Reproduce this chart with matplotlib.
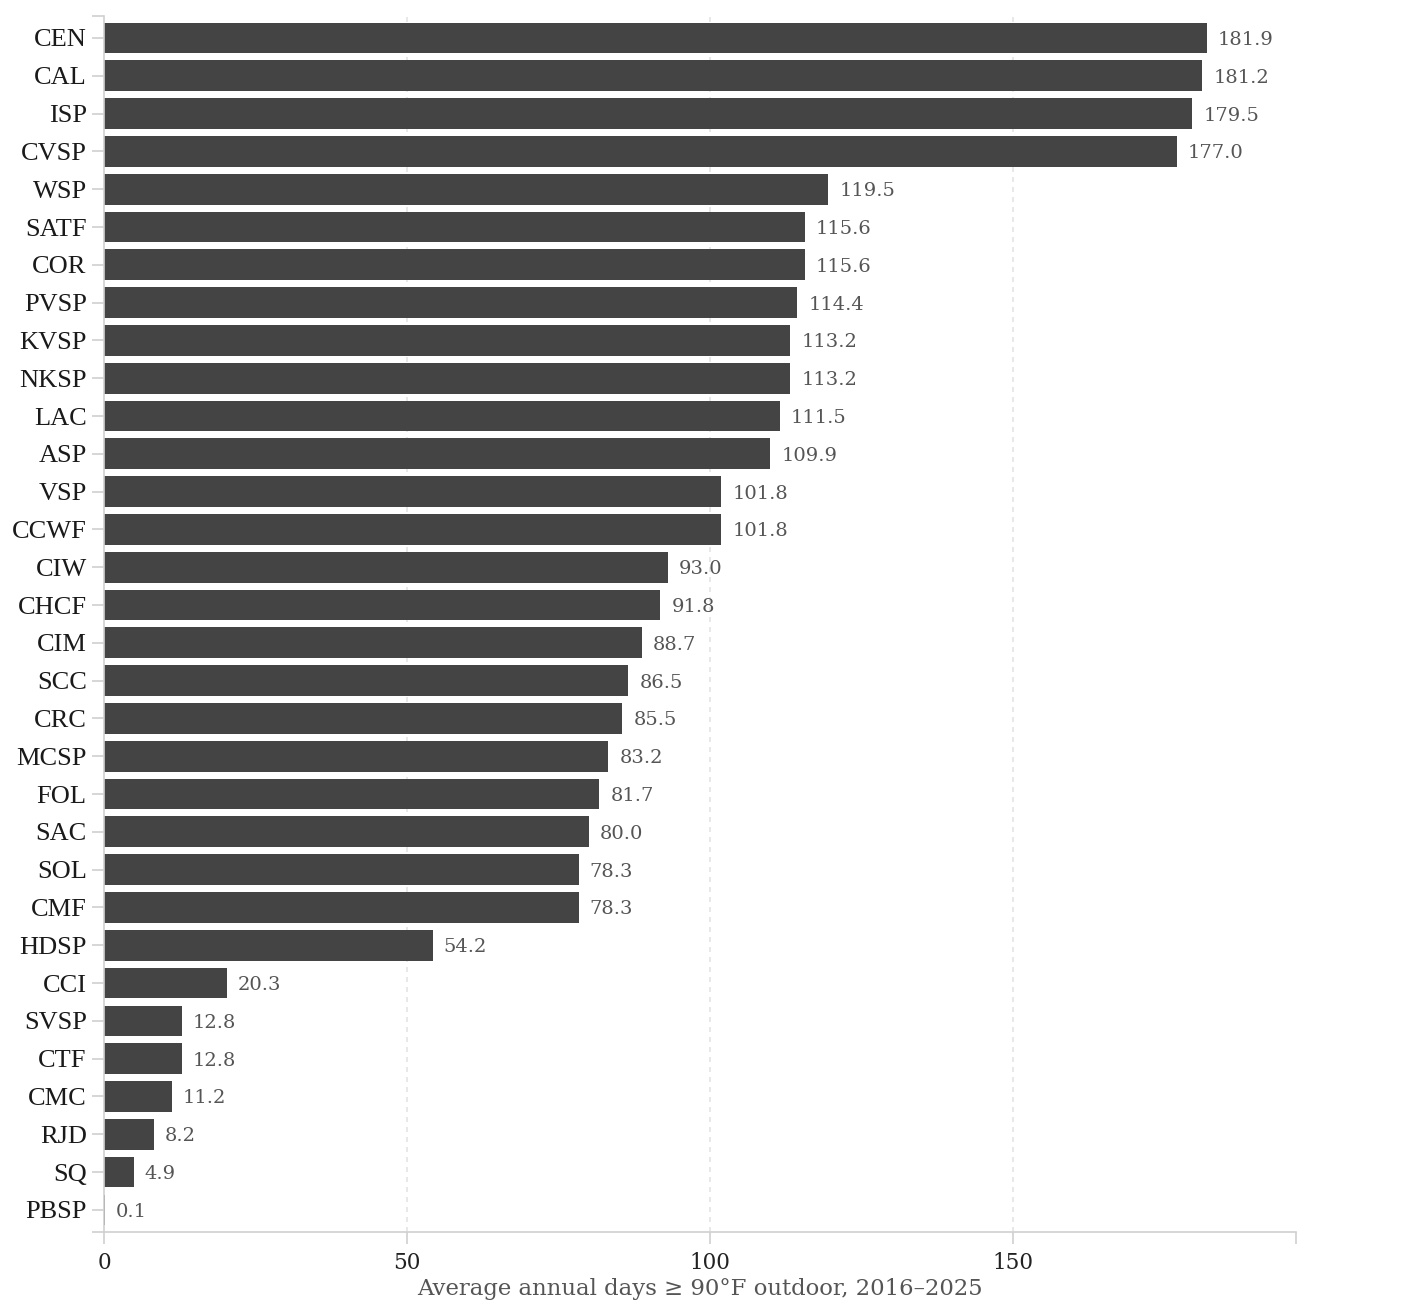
import matplotlib
matplotlib.use('Agg')
import matplotlib.pyplot as plt

facilities = ['CEN', 'CAL', 'ISP', 'CVSP', 'WSP', 'SATF', 'COR', 'PVSP',
              'KVSP', 'NKSP', 'LAC', 'ASP', 'VSP', 'CCWF', 'CIW', 'CHCF',
              'CIM', 'SCC', 'CRC', 'MCSP', 'FOL', 'SAC', 'SOL', 'CMF',
              'HDSP', 'CCI', 'SVSP', 'CTF', 'CMC', 'RJD', 'SQ', 'PBSP']
hot_days = [181.9, 181.2, 179.5, 177.0, 119.5, 115.6, 115.6, 114.4,
            113.2, 113.2, 111.5, 109.9, 101.8, 101.8, 93.0, 91.8,
            88.7, 86.5, 85.5, 83.2, 81.7, 80.0, 78.3, 78.3,
            54.2, 20.3, 12.8, 12.8, 11.2, 8.2, 4.9, 0.1]
x_ticks = [0, 50, 100, 150]
x_label = 'Average annual days \u2265 90\u00b0F outdoor, 2016\u20132025'

axis_grey = '#d0d0d0'
bar_color = '#444444'

fig = plt.figure(figsize=(14.24, 13.04), dpi=100)
ax = fig.add_axes([104 / 1424, 1 - 1232 / 1304,
                   (1296 - 104) / 1424, (1232 - 16) / 1304])

pos = list(range(len(facilities)))
ax.barh(pos, hot_days, height=0.81, color=bar_color, zorder=2)

xmax = max(hot_days) * 1.081
ymin, ymax = -0.582, len(facilities) - 0.413
ax.set_xlim(0, xmax)
ax.set_ylim(ymax, ymin)

for p, v in zip(pos, hot_days):
    ax.annotate('%.1f' % v, (v, p), xytext=(8, -1.5),
                textcoords='offset points', va='center', ha='left',
                fontsize=14, color='#555555', family='DejaVu Serif')

# dashed grid
for t in x_ticks[1:]:
    ax.axvline(t, color='#e4e4e4', lw=1.2, ls=(0, (3, 3)), zorder=1)

ax.set_yticks(pos)
ax.set_yticklabels(facilities, family='Liberation Serif', fontsize=19,
                   color='#1a1a1a')
ax.set_yticks([ymin, ymax], minor=True)
ax.set_xticks(x_ticks)
ax.set_xticklabels([str(t) for t in x_ticks], family='DejaVu Serif',
                   fontsize=15.5, color='#222222')
ax.set_xticks([xmax], minor=True)
ax.tick_params(which='both', length=8.5, width=1.2, color=axis_grey)
ax.tick_params(axis='y', pad=4)
ax.tick_params(axis='x', pad=6)

for side in ['top', 'right']:
    ax.spines[side].set_visible(False)
for side in ['left', 'bottom']:
    ax.spines[side].set_color(axis_grey)
    ax.spines[side].set_linewidth(1.2)

ax.set_xlabel(x_label, family='DejaVu Serif', fontsize=16.4, color='#555555',
              labelpad=3)

plt.savefig('out.png', dpi=100)
